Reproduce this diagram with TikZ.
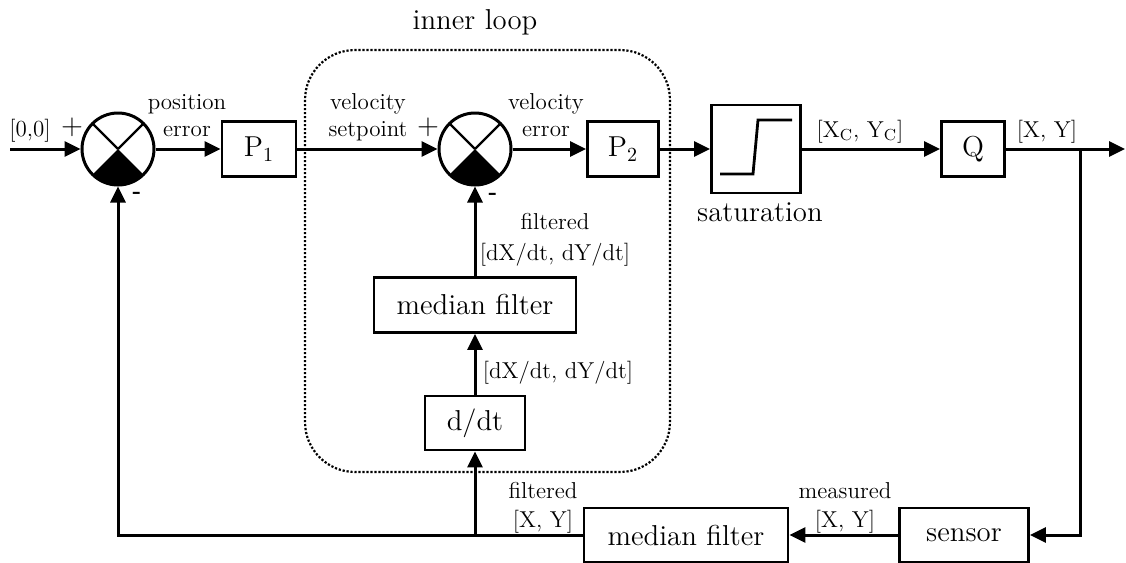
\documentclass[tikz,border=0pt]{standalone}
\usetikzlibrary{arrows.meta}
\newcommand\blkfont{\fontsize{14.4}{17}\selectfont}
\newcommand\lblfont{\fontsize{11.5}{14}\selectfont}
\begin{document}
\begin{tikzpicture}[x=0.5pt,y=-0.5pt,
  wire/.style={line width=1.5pt},
  arr/.style={wire,-{Triangle[length=8pt,width=7.5pt]}},
  blk/.style={draw,line width=1.4pt,inner sep=0pt,font=\blkfont},
  sumnode/.style={draw,circle,line width=1.5pt,minimum size=36pt,inner sep=0pt},
  lbl/.style={font=\lblfont,inner sep=0pt,anchor=base},
  sign/.style={font=\blkfont,inner sep=0pt},
]
\useasboundingbox (0,0) rectangle (1126,563);

% inner loop frame
\draw[line width=1.1pt,dash pattern=on 1.1pt off 0.9pt,rounded corners=25pt]
  (305,50) rectangle (670,472);
\node[font=\blkfont,anchor=base] (innerlbl) at (475,29) {inner loop};

% summing junctions
\node[sumnode] (s1) at (118,149) {};
\node[sumnode] (s2) at (475,149) {};
\foreach \s in {s1,s2}{
  \fill (\s.center) -- ++(-135:18pt) arc[start angle=-135,end angle=-45,radius=18pt] -- cycle;
  \draw[line width=1.2pt] (\s.center) -- ++(45:18pt) (\s.center) -- ++(135:18pt);
}

% blocks
\node[blk,minimum width=37pt,minimum height=27.5pt] (P1) at (259,149) {P$_1$};
\node[blk,minimum width=35.5pt,minimum height=27.5pt] (P2) at (623,149) {P$_2$};
\node[blk,minimum width=44.5pt,minimum height=44pt] (sat) at (756,149) {};
\node[blk,minimum width=31.5pt,minimum height=27.5pt] (Q) at (973,149) {Q};
\node[blk,minimum width=101pt,minimum height=27.5pt] (mfi) at (475,305) {median filter};
\node[blk,minimum width=50pt,minimum height=27pt] (ddt) at (475,423) {d/dt};
\node[blk,minimum width=102pt,minimum height=27pt] (mfb) at (686,535) {median filter};
\node[blk,minimum width=64.5pt,minimum height=27pt] (sensor) at (964,535) {sensor};

% saturation characteristic
\draw[line width=1.4pt] (720,174) -- (753,174) -- (758,120) -- (792,120);

% auxiliary points
\coordinate (in) at (10,149);
\coordinate (out) at (1125,149);
\coordinate (br) at (1080,149);
\coordinate (jn) at (475,535);

% connectors
\draw[arr] (in) -- (s1);
\draw[arr] (s1) -- (P1);
\draw[arr] (P1) -- (s2);
\draw[arr] (s2) -- (P2);
\draw[arr] (P2) -- (sat);
\draw[arr] (sat) -- (Q);
\draw[arr] (Q) -- (out);
\draw[arr] (br) |- (sensor);
\draw[arr] (sensor) -- (mfb);
\draw[arr] (mfb) -| (s1);
\draw[arr] (jn) -- (ddt);
\draw[arr] (ddt) -- (mfi);
\draw[arr] (mfi) -- (s2);

% signs
\node[sign] (p1) at (72,127) {+};
\node[sign] (p2) at (428,127) {+};
\node[font=\lblfont\bfseries,inner sep=0pt] (m1) at (137,195) {-};
\node[font=\lblfont\bfseries,inner sep=0pt] (m2) at (493,196) {-};

% signal labels
\node[lbl] (l00) at (30,136) {[0,0]};
\node[lbl] (lpos) at (187,109) {position};
\node[lbl] (lperr) at (187,136) {error};
\node[lbl] (lvel) at (368,109) {velocity};
\node[lbl] (lset) at (368,136) {setpoint};
\node[lbl] (lvel2) at (546,109) {velocity};
\node[lbl] (lverr) at (546,136) {error};
\node[lbl] (lxc) at (860,137) {[X$_\mathrm{C}$, Y$_\mathrm{C}$]};
\node[lbl] (lxy) at (1047,137) {[X, Y]};
\node[font=\blkfont,anchor=base] (lsat) at (760,221) {saturation};
\node[lbl] (lfd) at (555,229) {filtered};
\node[lbl] (lfdv) at (555,260) {[dX/dt, dY/dt]};
\node[lbl] (ldv) at (558,378) {[dX/dt, dY/dt]};
\node[lbl] (lfx) at (543,498) {filtered};
\node[lbl] (lfxy) at (543,527) {[X, Y]};
\node[lbl] (lmx) at (845,498) {measured};
\node[lbl] (lmxy) at (845,527) {[X, Y]};
\end{tikzpicture}
\end{document}
